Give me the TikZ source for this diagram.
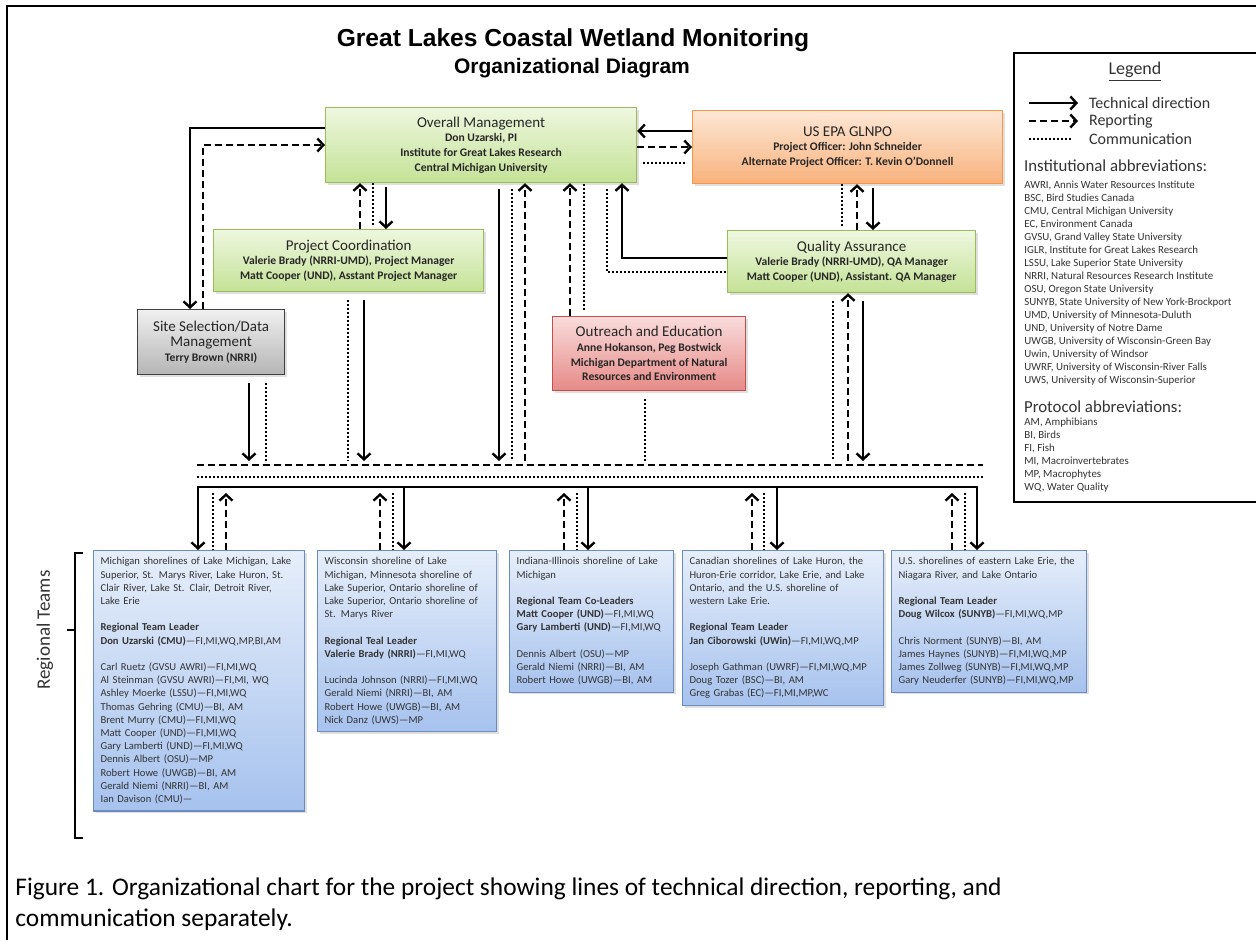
\documentclass[tikz,border=0pt]{standalone}
\usepackage{fontspec}
\setmainfont{Carlito}
\newfontfamily\headfont{Liberation Sans}
\usetikzlibrary{arrows.meta,shadows,positioning}
\definecolor{grnTop}{HTML}{EEF7DF}
\definecolor{grnBot}{HTML}{C4E296}
\definecolor{grnLine}{HTML}{9BBB59}
\definecolor{orgTop}{HTML}{FDE7D5}
\definecolor{orgBot}{HTML}{F8B27C}
\definecolor{orgLine}{HTML}{F79646}
\definecolor{gryTop}{HTML}{F0F0F0}
\definecolor{gryBot}{HTML}{B5B5B5}
\definecolor{gryLine}{HTML}{404040}
\definecolor{pnkTop}{HTML}{F9DCDB}
\definecolor{pnkBot}{HTML}{E68A87}
\definecolor{pnkLine}{HTML}{C0504D}
\definecolor{bluTop}{HTML}{E6EEFA}
\definecolor{bluBot}{HTML}{A6C2EE}
\definecolor{bluLine}{HTML}{6A8CC0}
\definecolor{txtGray}{HTML}{333333}
\tikzset{
    barb/.tip={Straight Barb[length=3pt,width=6.5pt]},
    techline/.style={line width=1.2pt},
    tech/.style={techline,-barb},
    repline/.style={line width=1.2pt,dash pattern=on 3.5pt off 2pt},
    rep/.style={repline,-barb},
    comm/.style={line width=1.1pt,dash pattern=on 1pt off 1pt},
    orgbox/.style={draw,line width=0.6pt,anchor=north west,align=center,inner sep=2pt,
        text=black!85,font=\fontsize{5.8}{7.4}\selectfont\bfseries,
        drop shadow={shadow xshift=1pt,shadow yshift=-1pt,opacity=0.25}},
    greenbox/.style={orgbox,draw=grnLine,top color=grnTop,bottom color=grnBot},
    orangebox/.style={orgbox,draw=orgLine,top color=orgTop,bottom color=orgBot},
    graybox/.style={orgbox,draw=gryLine,top color=gryTop,bottom color=gryBot},
    pinkbox/.style={orgbox,draw=pnkLine,top color=pnkTop,bottom color=pnkBot},
    regbox/.style={orgbox,draw=bluLine,top color=bluTop,bottom color=bluBot,align=left,
        inner sep=3.5pt,font=\fontsize{5.3}{6.6}\selectfont,text=txtGray},
}
\newcommand{\hd}[1]{{\fontsize{7.5}{9}\selectfont\mdseries #1}}

\begin{document}
\begin{tikzpicture}[x=0.5pt,y=-0.5pt]
\useasboundingbox (0,0) rectangle (1256,940);
\draw[line width=0.9pt] (7,945) -- (7,6) -- (1262,6);

\node[font=\headfont\fontsize{12.3}{14}\selectfont\bfseries] (title) at (573,40) {Great Lakes Coastal Wetland Monitoring};
\node[font=\headfont\fontsize{10.5}{12}\selectfont\bfseries] (subtitle) at (572,68) {Organizational Diagram};

% management boxes
\node[greenbox,minimum width=155.5pt,minimum height=37.5pt] (om) at (325,107)
    {\hd{Overall Management}\\Don Uzarski, PI\\Institute for Great Lakes Research\\Central Michigan University};
\node[orangebox,minimum width=155pt,minimum height=36.5pt] (epa) at (692,110)
    {\hd{US EPA GLNPO}\\Project Officer: John Schneider\\Alternate Project Officer: T. Kevin O’Donnell};
\node[greenbox,minimum width=135pt,minimum height=31pt] (pc) at (213,229)
    {\hd{Project Coordination}\\Valerie Brady (NRRI-UMD), Project Manager\\Matt Cooper (UND), Asstant Project Manager};
\node[greenbox,minimum width=124pt,minimum height=31pt] (qa) at (727,230)
    {\hd{Quality Assurance}\\Valerie Brady (NRRI-UMD), QA Manager\\Matt Cooper (UND), Assistant. QA Manager};
\node[graybox,minimum width=73.5pt,minimum height=32.5pt] (site) at (137,309)
    {\hd{Site Selection/Data}\\\hd{Management}\\Terry Brown (NRRI)};
\node[pinkbox,minimum width=96.5pt,minimum height=37pt] (outreach) at (552,316)
    {\hd{Outreach and Education}\\Anne Hokanson, Peg Bostwick\\Michigan Department of Natural\\Resources and Environment};

% regional teams
\node[regbox,text width=98.5pt] (r1) at (93,550)
    {Michigan shorelines of Lake Michigan, Lake\\Superior, St. Marys River, Lake Huron, St.\\Clair River, Lake St. Clair, Detroit River,\\Lake Erie\\[6.6pt]
     \textbf{Regional Team Leader}\\\textbf{Don Uzarski (CMU)}—FI,MI,WQ,MP,BI,AM\\[6.6pt]
     Carl Ruetz (GVSU AWRI)—FI,MI,WQ\\Al Steinman (GVSU AWRI)—FI,MI, WQ\\Ashley Moerke (LSSU)—FI,MI,WQ\\
     Thomas Gehring (CMU)—BI, AM\\Brent Murry (CMU)—FI,MI,WQ\\Matt Cooper (UND)—FI,MI,WQ\\
     Gary Lamberti (UND)—FI,MI,WQ\\Dennis Albert (OSU)—MP\\Robert Howe (UWGB)—BI, AM\\
     Gerald Niemi (NRRI)—BI, AM\\Ian Davison (CMU)—};
\node[regbox,text width=82.5pt] (r2) at (317,550)
    {Wisconsin shoreline of Lake\\Michigan, Minnesota shoreline of\\Lake Superior, Ontario shoreline of\\Lake Superior, Ontario shoreline of\\St. Marys River\\[6.6pt]
     \textbf{Regional Teal Leader}\\\textbf{Valerie Brady (NRRI)}—FI,MI,WQ\\[6.6pt]
     Lucinda Johnson (NRRI)—FI,MI,WQ\\Gerald Niemi (NRRI)—BI, AM\\Robert Howe (UWGB)—BI, AM\\Nick Danz (UWS)—MP};
\node[regbox,text width=75pt] (r3) at (509,550)
    {Indiana-Illinois shoreline of Lake\\Michigan\\[6.6pt]
     \textbf{Regional Team Co-Leaders}\\\textbf{Matt Cooper (UND)}—FI,MI,WQ\\\textbf{Gary Lamberti (UND)}—FI,MI,WQ\\[6.6pt]
     Dennis Albert (OSU)—MP\\Gerald Niemi (NRRI)—BI, AM\\Robert Howe (UWGB)—BI, AM};
\node[regbox,text width=93.5pt] (r4) at (682,550)
    {Canadian shorelines of Lake Huron, the\\Huron-Erie corridor, Lake Erie, and Lake\\Ontario, and the U.S. shoreline of\\western Lake Erie.\\[6.6pt]
     \textbf{Regional Team Leader}\\\textbf{Jan Ciborowski (UWin)}—FI,MI,WQ,MP\\[6.6pt]
     Joseph Gathman (UWRF)—FI,MI,WQ,MP\\Doug Tozer (BSC)—BI, AM\\Greg Grabas (EC)—FI,MI,MP,WC};
\node[regbox,text width=90.5pt] (r5) at (891,550)
    {U.S. shorelines of eastern Lake Erie, the\\Niagara River, and Lake Ontario\\[6.6pt]
     \textbf{Regional Team Leader}\\\textbf{Doug Wilcox (SUNYB)}—FI,MI,WQ,MP\\[6.6pt]
     Chris Norment (SUNYB)—BI, AM\\James Haynes (SUNYB)—FI,MI,WQ,MP\\James Zollweg (SUNYB)—FI,MI,WQ,MP\\Gary Neuderfer (SUNYB)—FI,MI,WQ,MP};

\node[rotate=90,font=\fontsize{9.5}{11}\selectfont,text=txtGray] (teams) at (45,630) {Regional Teams};
\draw[line width=1pt] (83,553) -- (75,553) -- (75,838) -- (83,838);
\draw[line width=1pt] (75,630) -- (67,630);

% legend
\node[draw,line width=0.8pt,fill=white,anchor=north west,minimum width=130pt,minimum height=224.5pt] (legend) at (1013,52) {};
\node[font=\fontsize{9}{11}\selectfont,text=txtGray] (legtitle) at (1135,72) {\underline{Legend}};
\node[anchor=west,font=\fontsize{8}{10}\selectfont,text=txtGray] (ltech) at (1082,103) {Technical direction};
\node[anchor=west,font=\fontsize{8}{10}\selectfont,text=txtGray] (lrep) at (1082,121) {Reporting};
\node[anchor=west,font=\fontsize{8}{10}\selectfont,text=txtGray] (lcomm) at (1082,139) {Communication};
\draw[tech] ([xshift=-26.5pt]ltech.west) -- ([xshift=-2pt]ltech.west);
\draw[rep] ([xshift=-26.5pt]lrep.west) -- ([xshift=-2pt]lrep.west);
\draw[comm] ([xshift=-26.5pt]lcomm.west) -- ([xshift=-4.5pt]lcomm.west);
\node[anchor=west,font=\fontsize{8.4}{10}\selectfont,text=txtGray] (insthead) at (1017,166) {Institutional abbreviations:};
\node[anchor=north west,align=left,inner sep=0pt,font=\fontsize{5.45}{6.5}\selectfont,text=txtGray] (inst) at (1024,181)
    {AWRI, Annis Water Resources Institute\\BSC, Bird Studies Canada\\CMU, Central Michigan University\\EC, Environment Canada\\
     GVSU, Grand Valley State University\\IGLR, Institute for Great Lakes Research\\LSSU, Lake Superior State University\\
     NRRI, Natural Resources Research Institute\\OSU, Oregon State University\\SUNYB, State University of New York-Brockport\\
     UMD, University of Minnesota-Duluth\\UND, University of Notre Dame\\UWGB, University of Wisconsin-Green Bay\\
     Uwin, University of Windsor\\UWRF, University of Wisconsin-River Falls\\UWS, University of Wisconsin-Superior};
\node[anchor=west,font=\fontsize{8.4}{10}\selectfont,text=txtGray] (prothead) at (1017,407) {Protocol abbreviations:};
\node[anchor=north west,align=left,inner sep=0pt,font=\fontsize{5.45}{6.5}\selectfont,text=txtGray] (prot) at (1024,418)
    {AM, Amphibians\\BI, Birds\\FI, Fish\\MI, Macroinvertebrates\\MP, Macrophytes\\WQ, Water Quality};

% bus lines
\coordinate (upbus) at (0,461);
\coordinate (lowbus) at (0,493);
\coordinate (dashL) at (197,465);
\coordinate (dashR) at (983,465);
\coordinate (dotL) at (197,477);
\coordinate (dotR) at (985,477);
\coordinate (solL) at (198,487);
\coordinate (solR) at (977,487);
\draw[repline] (dashL) -- (dashR);
\draw[comm] (dotL) -- (dotR);
\draw[tech,barb-barb] (r1.north -| solL) -- (solL) -- (solR) -- (r5.north -| solR);

% bus to regional teams
\draw[comm] (213,0 |- lowbus) -- (r1.north -| 213,0);
\draw[rep] (r1.north -| 226,0) -- (226,0 |- lowbus);
\foreach \r/\a/\b/\c in {r2/380/393/404,r3/564/577/588,r4/752/764/777}{
    \draw[rep] (\r.north -| \a,0) -- (\a,0 |- lowbus);
    \draw[comm] (\b,0 |- lowbus) -- (\r.north -| \b,0);
    \draw[tech] (\c,0 |- solL) -- (\r.north -| \c,0);
}
\draw[rep] (r5.north -| 952,0) -- (952,0 |- lowbus);
\draw[comm] (965,0 |- lowbus) -- (r5.north -| 965,0);

% management links
\draw[tech] (om.west |- 0,128) -| (site.north -| 190,0);
\draw[rep] (site.north -| 203,0) |- (om.west |- 0,145);
\draw[rep] (pc.north -| 360,0) -- (om.south -| 360,0);
\draw[comm,shorten <=2pt] (pc.north -| 373,0) -- (om.south -| 373,0);
\draw[tech,shorten <=2pt] (om.south -| 386,0) -- (pc.north -| 386,0);
\draw[tech] (epa.west |- 0,131) -- (om.east |- 0,131);
\draw[rep] (om.east |- 0,147) -- (epa.west |- 0,147);
\draw[comm,shorten <=3pt,shorten >=3pt] (om.east |- 0,163) -- (epa.west |- 0,163);
\draw[comm,shorten <=2pt] (qa.north -| 842,0) -- (epa.south -| 842,0);
\draw[rep] (qa.north -| 857,0) -- (epa.south -| 857,0);
\draw[tech,shorten <=2pt] (epa.south -| 873,0) -- (qa.north -| 873,0);
\draw[tech] (qa.west |- 0,258) -| (om.south -| 622,0);
\draw[comm,shorten <=3pt] (om.south -| 607,0) |- (qa.west |- 0,272);
\draw[rep] (outreach.north -| 570,0) -- (om.south -| 570,0);
\draw[comm,shorten <=3pt] (outreach.north -| 584,0) -- (om.south -| 584,0);

% links down to the bus
\draw[tech,shorten <=3pt] (om.south -| 499,0) -- (499,0 |- upbus);
\draw[comm,shorten <=3pt] (om.south -| 512,0) -- (512,0 |- upbus);
\draw[rep] (525,0 |- upbus) -- (om.south -| 525,0);
\draw[tech,shorten <=4pt] (site.south -| 249,0) -- (249,0 |- upbus);
\draw[comm,shorten <=4pt] (site.south -| 266,0) -- (266,0 |- upbus);
\draw[comm,shorten <=4pt] (pc.south -| 348,0) -- (348,0 |- upbus);
\draw[tech,shorten <=4pt] (pc.south -| 364,0) -- (364,0 |- upbus);
\draw[comm,shorten <=4pt] (outreach.south -| 645,0) -- (645,0 |- upbus);
\draw[comm,shorten <=4pt] (qa.south -| 833,0) -- (833,0 |- upbus);
\draw[rep] (848,0 |- upbus) -- (qa.south -| 848,0);
\draw[tech,shorten <=4pt] (qa.south -| 863,0) -- (863,0 |- upbus);

% caption
\node[anchor=base west,inner sep=0pt,font=\fontsize{12.7}{15}\selectfont] (cap1) at (15,895) {Figure 1. Organizational chart for the project showing lines of technical direction, reporting, and};
\node[anchor=base west,inner sep=0pt,font=\fontsize{12.7}{15}\selectfont] (cap2) at (15,926) {communication separately.};
\end{tikzpicture}
\end{document}
